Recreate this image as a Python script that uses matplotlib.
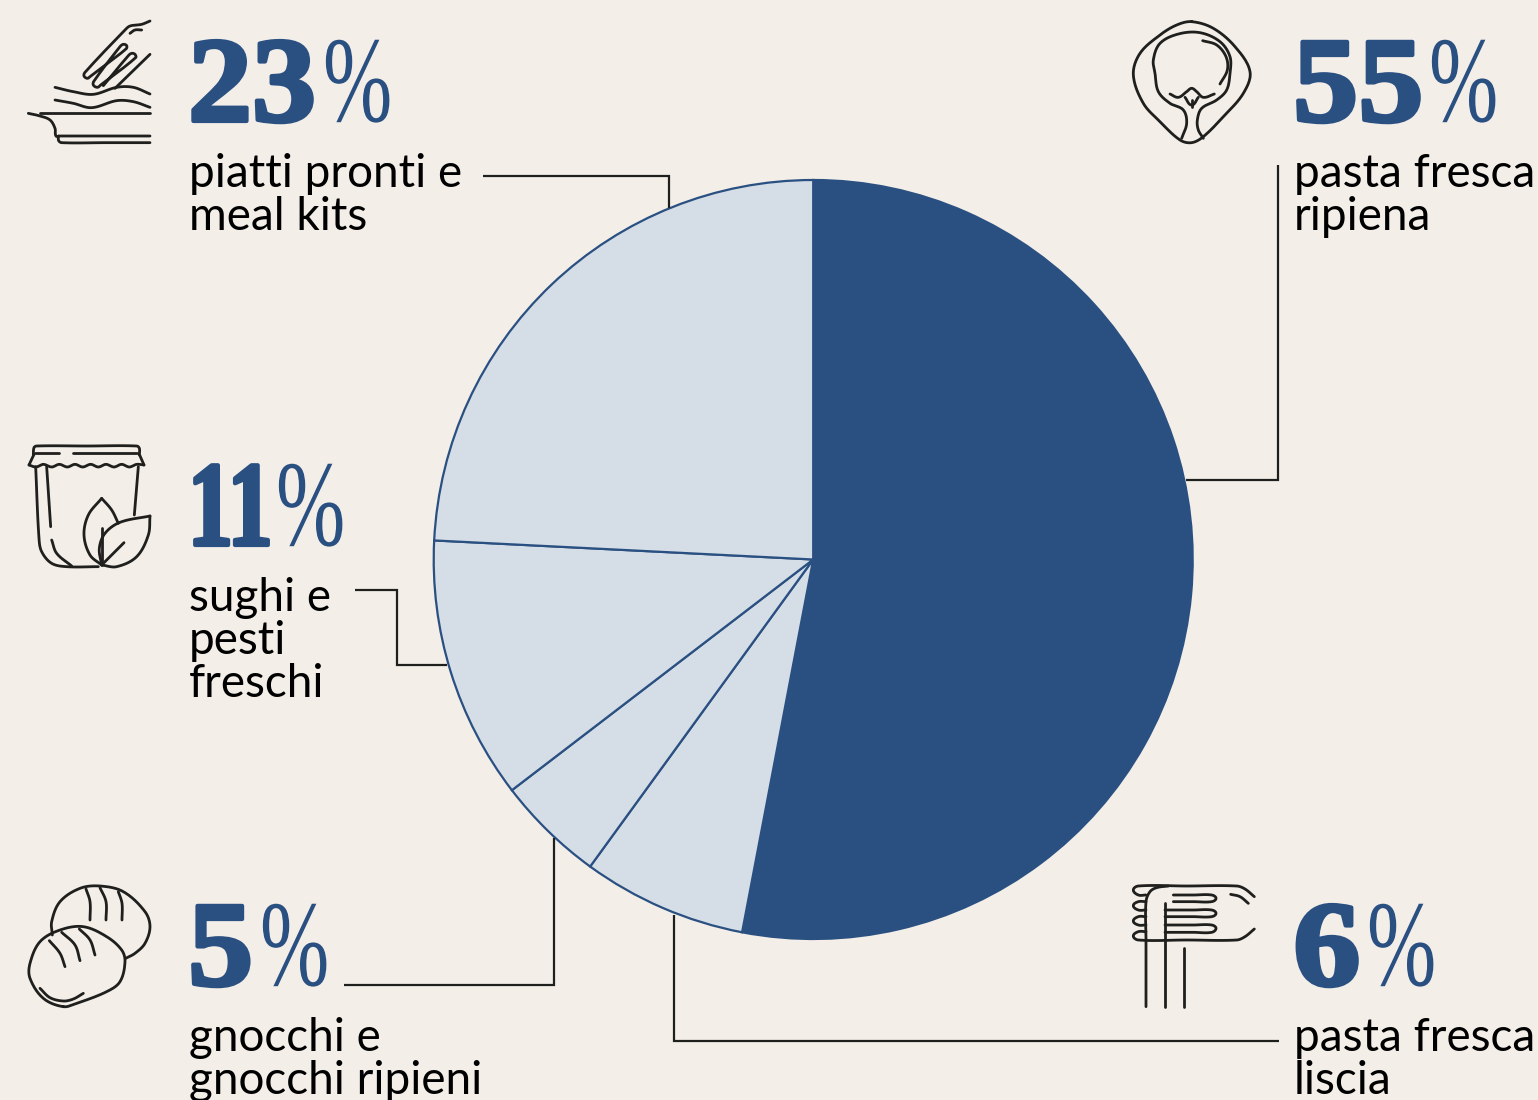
import matplotlib
matplotlib.use('Agg')
import matplotlib.pyplot as plt
import numpy as np
from matplotlib.patheffects import AbstractPathEffect
from matplotlib.transforms import Affine2D

W, H = 1538, 1100
BG = '#f3eee8'
DARK = '#2a5082'
LIGHT = '#d5dde6'
INK = '#1f1f1d'

# slices as drawn, clockwise from the top (the drawing is a bit off its printed labels)
categories = ['pasta fresca ripiena', 'pasta fresca liscia', 'gnocchi e gnocchi ripieni',
              'sughi e pesti freschi', 'piatti pronti e meal kits']
drawn_share = [53.0, 7.0, 4.6, 11.2, 24.2]
slice_colors = [DARK, LIGHT, LIGHT, LIGHT, LIGHT]

printed_pct = ['55', '6', '5', '11', '23']
label_lines = [['pasta fresca', 'ripiena'], ['pasta fresca', 'liscia'],
               ['gnocchi e', 'gnocchi ripieni'], ['sughi e', 'pesti', 'freschi'],
               ['piatti pronti e', 'meal kits']]
text_x = [1293, 1293, 188, 188, 188]
pct_base = [121, 985, 985, 545, 121]
label_base = [187, 1051, 1051, 611, 187]
digit_squeeze = [1.08, 1.12, 1.08, 0.74, 1.06]
pct_x = [1429, 1367, 260, 276, 323]

leaders = [
    [(1278, 165), (1278, 480), (1186, 480)],
    [(1279, 1041), (674, 1041), (674, 915)],
    [(344, 985), (554, 985), (554, 838)],
    [(355, 590), (397, 590), (397, 665), (447, 665)],
    [(483, 176), (669, 176), (669, 208)],
]


class Squeeze(AbstractPathEffect):
    # squeezes glyphs sideways around the text origin, and can fatten them
    def __init__(self, sx=1.0, lw=0.0):
        super().__init__()
        self.sx = sx
        self.lw = lw

    def draw_path(self, renderer, gc, tpath, affine, rgbFace=None):
        m = affine.get_matrix().copy()
        m[0, :2] *= self.sx
        gc0 = renderer.new_gc()
        gc0.copy_properties(gc)
        gc0.set_linewidth(self.lw)
        gc0.set_foreground(rgbFace)
        renderer.draw_path(gc0, tpath, Affine2D(m), rgbFace)
        gc0.restore()


def smooth(pts, closed=False, n=14):
    # hermite curve through the traced points, tangents scaled by segment length
    p = np.array(pts, dtype=float)
    if closed:
        p = np.vstack([p[-1], p, p[0], p[1]])
    else:
        p = np.vstack([p[0], p, p[-1]])
    out = []
    t = np.linspace(0, 1, n, endpoint=False)[:, None]
    for i in range(1, len(p) - 2):
        a, b, c, d = p[i - 1], p[i], p[i + 1], p[i + 2]
        L = np.linalg.norm(c - b)
        tb = (c - a) / np.linalg.norm(c - a)
        tc = (d - b) / np.linalg.norm(d - b)
        out.append((2 * t ** 3 - 3 * t ** 2 + 1) * b + (t ** 3 - 2 * t ** 2 + t) * L * tb
                   + (-2 * t ** 3 + 3 * t ** 2) * c + (t ** 3 - t ** 2) * L * tc)
    out.append(p[-2][None, :])
    return np.vstack(out)


fig = plt.figure(figsize=(W / 100, H / 100), dpi=100, facecolor=BG)

R = 379.5
cx, cy = 813.2, 559.5
ax_pie = fig.add_axes([(cx - R - 5) / W, 1 - (cy + R + 5) / H, (2 * R + 10) / W, (2 * R + 10) / H])
ax_pie.pie(drawn_share, colors=slice_colors, startangle=90, counterclock=False,
           radius=R / (R + 5), wedgeprops=dict(edgecolor=DARK, linewidth=1.6))
ax_pie.set_xlim(-1, 1)
ax_pie.set_ylim(-1, 1)

ax = fig.add_axes([0, 0, 1, 1])
ax.set_xlim(0, W)
ax.set_ylim(H, 0)
ax.axis('off')
ax.patch.set_alpha(0)

for seg in leaders:
    xs, ys = zip(*seg)
    ax.plot(xs, ys, color=INK, lw=1.6, solid_joinstyle='miter', solid_capstyle='butt')

for i in range(len(categories)):
    ax.text(text_x[i], pct_base[i], printed_pct[i], color=DARK, fontsize=87, va='baseline',
            family='Liberation Serif', weight='bold',
            path_effects=[Squeeze(digit_squeeze[i], 3.0)])
    ax.text(pct_x[i], pct_base[i], '%', color=DARK, fontsize=88, va='baseline',
            family='Liberation Serif', path_effects=[Squeeze(0.68, 0.0)])
    for j, line in enumerate(label_lines[i]):
        ax.text(text_x[i] + 1, label_base[i] + 43 * j, line, color='black', fontsize=33,
                va='baseline', family='Lato', clip_on=True)


def stroke(off, shapes, closed_idx=()):
    for k, s in enumerate(shapes):
        xy = smooth(s, closed=k in closed_idx)
        ax.plot(off[0] + xy[:, 0] / 3, off[1] + xy[:, 1] / 3, color=INK, lw=2.0,
                solid_capstyle='round', solid_joinstyle='round')


# icons, crop coordinates at 3x
stroke((20, 10), [
    [(390, 33), (365, 43), (330, 48), (315, 60), (195, 187), (192, 198), (202, 205), (210, 200),
     (318, 117), (320, 107), (310, 103), (300, 110), (222, 213), (220, 225), (232, 232), (242, 225),
     (347, 143), (345, 133), (335, 130), (325, 137), (250, 227)],
    [(285, 235), (390, 133)],
    [(330, 70), (345, 60), (365, 60)],
    [(105, 232), (160, 245), (220, 253), (290, 232), (340, 232), (390, 252)],
    [(105, 270), (160, 280), (215, 293), (290, 272), (340, 275), (390, 292)],
    [(60, 310), (225, 310), (390, 310)],
    [(25, 310), (60, 318), (90, 330), (105, 355), (108, 378), (120, 378), (390, 378)],
    [(115, 378), (116, 392), (125, 398), (260, 398), (390, 398)],
])
stroke((20, 435), [
    [(40, 60), (42, 38), (50, 33), (200, 33), (350, 33), (358, 40), (358, 60)],
    [(45, 55), (118, 55)],
    [(158, 55), (352, 55)],
    [(42, 58), (27, 90)],
    [(358, 58), (372, 90)],
    [(27, 90), (48, 96), (70, 88), (95, 96), (118, 88), (142, 96), (165, 88), (188, 96), (212, 88),
     (235, 96), (258, 88), (282, 96), (305, 88), (328, 96), (350, 88), (372, 90)],
    [(47, 95), (57, 310), (65, 350), (95, 385), (140, 395), (235, 395)],
    [(80, 95), (92, 275)],
    [(95, 315), (110, 355), (155, 393)],
    [(355, 95), (343, 240)],
    [(295, 265), (275, 225), (245, 190)],
    [(245, 190), (205, 240), (192, 300), (210, 360), (245, 390)],
    [(245, 278), (245, 390)],
    [(245, 390), (238, 340), (255, 295), (300, 262), (390, 243)],
    [(390, 243), (385, 300), (350, 365), (290, 395), (245, 390)],
    [(245, 390), (312, 323)],
])
stroke((20, 875), [
    [(97, 180), (95, 140), (120, 80), (180, 40), (240, 33), (310, 50), (375, 110), (390, 155), (375, 205), (345, 235), (317, 250)],
    [(198, 42), (210, 80), (210, 135)],
    [(240, 38), (258, 80), (258, 135)],
    [(295, 50), (306, 85), (306, 135)],
    [(130, 395), (70, 370), (30, 310), (30, 265), (60, 200), (120, 165), (190, 155), (260, 185),
     (305, 225), (315, 260), (300, 320), (260, 350), (170, 385)],
    [(88, 197), (120, 235), (135, 275)],
    [(125, 172), (165, 210), (180, 257)],
    [(178, 162), (210, 195), (225, 240)],
    [(60, 340), (90, 368), (130, 378), (160, 372), (190, 355)],
], closed_idx=(4,))
stroke((1120, 10), [
    [(215, 35), (280, 55), (345, 110), (390, 185), (370, 250), (310, 320), (250, 380), (215, 398),
     (180, 390), (120, 335), (70, 280), (40, 195), (60, 130), (120, 75), (170, 45)],
    [(185, 385), (200, 340), (190, 300), (150, 280), (115, 245), (105, 190), (100, 150), (120, 100),
     (175, 72), (240, 68), (300, 95), (330, 140), (330, 190), (320, 240), (290, 270), (245, 295),
     (232, 330), (235, 360), (250, 385)],
    [(248, 92), (290, 105), (318, 140), (322, 180), (300, 222)],
    [(150, 252), (175, 262), (200, 245), (215, 235), (230, 245), (250, 262), (283, 252)],
    [(195, 262), (215, 285), (235, 262)],
    [(215, 270), (215, 290)],
], closed_idx=(0,))
stroke((1120, 875), [
    [(403, 65), (375, 42), (350, 33), (200, 33), (55, 33), (40, 45), (55, 60), (78, 60)],
    [(78, 80), (55, 80), (40, 92), (55, 105), (78, 105)],
    [(78, 125), (55, 125), (40, 138), (55, 150), (78, 150)],
    [(78, 170), (55, 170), (40, 183), (55, 195), (200, 195), (350, 195), (375, 185), (403, 162)],
    [(332, 58), (360, 65), (385, 85)],
    [(160, 60), (220, 60), (275, 60), (288, 70), (275, 80), (220, 80), (160, 80)],
    [(135, 105), (220, 105), (275, 105), (288, 115), (275, 125), (220, 125), (135, 125)],
    [(135, 150), (220, 150), (275, 150), (288, 160), (275, 172), (220, 172), (135, 172)],
    [(78, 395), (78, 200), (78, 80), (90, 50), (110, 38), (145, 33)],
    [(135, 85), (135, 395)],
    [(191, 218), (191, 395)],
])

fig.savefig('out.png', dpi=100, facecolor=BG)
